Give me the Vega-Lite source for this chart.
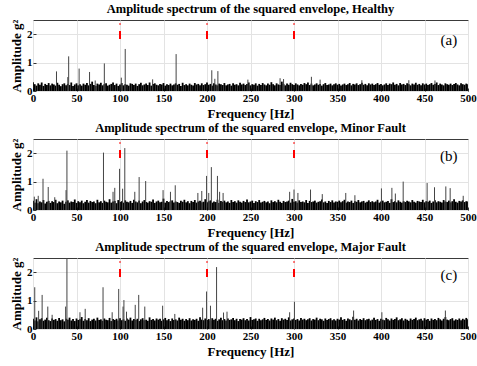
{
"$schema": "https://vega.github.io/schema/vega-lite/v6.json",
"padding": {"left": 9, "top": 2, "right": 5, "bottom": 0},
"spacing": 0,
"config": {
 "font": "Liberation Serif",
 "view": {"stroke": "#3a3a3a", "strokeWidth": 1},
 "axis": {"labelFont": "Liberation Serif", "labelFontWeight": "bold", "labelFontSize": 11, "labelColor": "black", "titleFont": "Liberation Serif", "titleFontWeight": "bold", "titleFontSize": 13, "titleColor": "black", "domain": false, "tickColor": "#333", "tickSize": -3, "gridColor": "#e3e3e3", "labelPadding": 4, "labelFlush": false, "labelOverlap": false},
 "axisY": {"tickCount": 3},
 "title": {"font": "Liberation Serif", "fontSize": 12.5, "fontWeight": "bold", "color": "black", "offset": 4, "anchor": "middle", "frame": "group"}
},
"datasets": {
 "floor": [
{"f":0,"a":0.31,"b":0.33,"c":0.36},{"f":2,"a":0.24,"b":0.26,"c":0.3},{"f":4,"a":0.19,"b":0.38,"c":0.41},{"f":6,"a":0.27,"b":0.24,"c":0.27},{"f":8,"a":0.22,"b":0.3,"c":0.34},{"f":10,"a":0.3,"b":0.27,"c":0.38},{"f":12,"a":0.18,"b":0.35,"c":0.29},{"f":14,"a":0.25,"b":0.23,"c":0.33},{"f":16,"a":0.21,"b":0.29,"c":0.4},{"f":18,"a":0.28,"b":0.32,"c":0.31},
{"f":20,"a":0.2,"b":0.25,"c":0.28},{"f":22,"a":0.26,"b":0.31,"c":0.37},{"f":24,"a":0.23,"b":0.28,"c":0.32},{"f":26,"a":0.19,"b":0.36,"c":0.35},{"f":28,"a":0.29,"b":0.24,"c":0.29},{"f":30,"a":0.22,"b":0.3,"c":0.39},{"f":32,"a":0.17,"b":0.27,"c":0.31},{"f":34,"a":0.24,"b":0.33,"c":0.34},{"f":36,"a":0.27,"b":0.22,"c":0.27},{"f":38,"a":0.2,"b":0.29,"c":0.36},
{"f":40,"a":0.25,"b":0.34,"c":0.33},{"f":42,"a":0.21,"b":0.26,"c":0.4},{"f":44,"a":0.3,"b":0.3,"c":0.3},{"f":46,"a":0.18,"b":0.28,"c":0.35},{"f":48,"a":0.23,"b":0.37,"c":0.28},{"f":50,"a":0.27,"b":0.25,"c":0.37},{"f":52,"a":0.2,"b":0.31,"c":0.32},{"f":54,"a":0.24,"b":0.27,"c":0.34},{"f":56,"a":0.19,"b":0.33,"c":0.42},{"f":58,"a":0.26,"b":0.24,"c":0.29},
{"f":60,"a":0.22,"b":0.29,"c":0.35},{"f":62,"a":0.28,"b":0.35,"c":0.31},{"f":64,"a":0.2,"b":0.26,"c":0.38},{"f":66,"a":0.25,"b":0.32,"c":0.28},{"f":68,"a":0.33,"b":0.28,"c":0.33},{"f":70,"a":0.21,"b":0.3,"c":0.36},{"f":72,"a":0.18,"b":0.24,"c":0.3},{"f":74,"a":0.26,"b":0.36,"c":0.4},{"f":76,"a":0.23,"b":0.27,"c":0.32},{"f":78,"a":0.29,"b":0.31,"c":0.34},
{"f":80,"a":0.2,"b":0.25,"c":0.29},{"f":82,"a":0.24,"b":0.33,"c":0.37},{"f":84,"a":0.27,"b":0.29,"c":0.33},{"f":86,"a":0.19,"b":0.27,"c":0.31},{"f":88,"a":0.22,"b":0.38,"c":0.39},{"f":90,"a":0.25,"b":0.26,"c":0.28},{"f":92,"a":0.3,"b":0.3,"c":0.35},{"f":94,"a":0.21,"b":0.32,"c":0.32},{"f":96,"a":0.26,"b":0.24,"c":0.36},{"f":98,"a":0.18,"b":0.35,"c":0.3},
{"f":100,"a":0.23,"b":0.28,"c":0.38},{"f":102,"a":0.28,"b":0.31,"c":0.31},{"f":104,"a":0.2,"b":0.26,"c":0.34},{"f":106,"a":0.24,"b":0.34,"c":0.29},{"f":108,"a":0.22,"b":0.29,"c":0.37},{"f":110,"a":0.19,"b":0.27,"c":0.33},{"f":112,"a":0.27,"b":0.32,"c":0.4},{"f":114,"a":0.25,"b":0.25,"c":0.3},{"f":116,"a":0.21,"b":0.36,"c":0.35},{"f":118,"a":0.26,"b":0.3,"c":0.32},
{"f":120,"a":0.18,"b":0.27,"c":0.36},{"f":122,"a":0.24,"b":0.33,"c":0.28},{"f":124,"a":0.29,"b":0.24,"c":0.34},{"f":126,"a":0.2,"b":0.3,"c":0.38},{"f":128,"a":0.23,"b":0.35,"c":0.31},{"f":130,"a":0.26,"b":0.28,"c":0.33},{"f":132,"a":0.21,"b":0.26,"c":0.29},{"f":134,"a":0.3,"b":0.31,"c":0.41},{"f":136,"a":0.19,"b":0.29,"c":0.32},{"f":138,"a":0.25,"b":0.37,"c":0.35},
{"f":140,"a":0.27,"b":0.25,"c":0.3},{"f":142,"a":0.22,"b":0.3,"c":0.37},{"f":144,"a":0.2,"b":0.33,"c":0.33},{"f":146,"a":0.25,"b":0.27,"c":0.36},{"f":148,"a":0.23,"b":0.29,"c":0.29},{"f":150,"a":0.28,"b":0.4,"c":0.34},{"f":152,"a":0.19,"b":0.26,"c":0.39},{"f":154,"a":0.24,"b":0.32,"c":0.31},{"f":156,"a":0.21,"b":0.28,"c":0.35},{"f":158,"a":0.26,"b":0.31,"c":0.28},
{"f":160,"a":0.2,"b":0.34,"c":0.37},{"f":162,"a":0.23,"b":0.26,"c":0.32},{"f":164,"a":0.27,"b":0.3,"c":0.34},{"f":166,"a":0.22,"b":0.28,"c":0.3},{"f":168,"a":0.25,"b":0.25,"c":0.4},{"f":170,"a":0.18,"b":0.33,"c":0.33},{"f":172,"a":0.29,"b":0.29,"c":0.36},{"f":174,"a":0.21,"b":0.36,"c":0.29},{"f":176,"a":0.24,"b":0.27,"c":0.35},{"f":178,"a":0.2,"b":0.31,"c":0.31},
{"f":180,"a":0.26,"b":0.24,"c":0.38},{"f":182,"a":0.22,"b":0.32,"c":0.3},{"f":184,"a":0.19,"b":0.28,"c":0.34},{"f":186,"a":0.28,"b":0.35,"c":0.32},{"f":188,"a":0.23,"b":0.26,"c":0.36},{"f":190,"a":0.25,"b":0.3,"c":0.29},{"f":192,"a":0.2,"b":0.33,"c":0.41},{"f":194,"a":0.27,"b":0.27,"c":0.33},{"f":196,"a":0.21,"b":0.29,"c":0.31},{"f":198,"a":0.24,"b":0.38,"c":0.37},
{"f":200,"a":0.3,"b":0.27,"c":0.32},{"f":202,"a":0.22,"b":0.31,"c":0.35},{"f":204,"a":0.25,"b":0.34,"c":0.3},{"f":206,"a":0.19,"b":0.26,"c":0.38},{"f":208,"a":0.27,"b":0.3,"c":0.33},{"f":210,"a":0.23,"b":0.28,"c":0.36},{"f":212,"a":0.2,"b":0.36,"c":0.29},{"f":214,"a":0.26,"b":0.25,"c":0.34},{"f":216,"a":0.24,"b":0.32,"c":0.4},{"f":218,"a":0.21,"b":0.29,"c":0.31},
{"f":220,"a":0.28,"b":0.33,"c":0.35},{"f":222,"a":0.2,"b":0.27,"c":0.3},{"f":224,"a":0.23,"b":0.3,"c":0.37},{"f":226,"a":0.25,"b":0.25,"c":0.32},{"f":228,"a":0.19,"b":0.35,"c":0.34},{"f":230,"a":0.27,"b":0.28,"c":0.39},{"f":232,"a":0.22,"b":0.31,"c":0.31},{"f":234,"a":0.24,"b":0.26,"c":0.36},{"f":236,"a":0.2,"b":0.34,"c":0.28},{"f":238,"a":0.29,"b":0.29,"c":0.35},
{"f":240,"a":0.23,"b":0.26,"c":0.33},{"f":242,"a":0.26,"b":0.32,"c":0.38},{"f":244,"a":0.21,"b":0.28,"c":0.31},{"f":246,"a":0.25,"b":0.37,"c":0.35},{"f":248,"a":0.3,"b":0.27,"c":0.3},{"f":250,"a":0.2,"b":0.3,"c":0.42},{"f":252,"a":0.24,"b":0.33,"c":0.32},{"f":254,"a":0.22,"b":0.25,"c":0.34},{"f":256,"a":0.27,"b":0.31,"c":0.37},{"f":258,"a":0.19,"b":0.28,"c":0.29},
{"f":260,"a":0.25,"b":0.35,"c":0.36},{"f":262,"a":0.21,"b":0.26,"c":0.31},{"f":264,"a":0.28,"b":0.29,"c":0.34},{"f":266,"a":0.23,"b":0.32,"c":0.39},{"f":268,"a":0.2,"b":0.27,"c":0.32},{"f":270,"a":0.26,"b":0.3,"c":0.35},{"f":272,"a":0.22,"b":0.24,"c":0.3},{"f":274,"a":0.31,"b":0.34,"c":0.37},{"f":276,"a":0.24,"b":0.28,"c":0.33},{"f":278,"a":0.2,"b":0.31,"c":0.4},
{"f":280,"a":0.27,"b":0.27,"c":0.31},{"f":282,"a":0.23,"b":0.36,"c":0.35},{"f":284,"a":0.21,"b":0.29,"c":0.29},{"f":286,"a":0.33,"b":0.25,"c":0.38},{"f":288,"a":0.25,"b":0.32,"c":0.33},{"f":290,"a":0.2,"b":0.28,"c":0.36},{"f":292,"a":0.26,"b":0.3,"c":0.32},{"f":294,"a":0.22,"b":0.33,"c":0.41},{"f":296,"a":0.29,"b":0.26,"c":0.3},{"f":298,"a":0.24,"b":0.39,"c":0.34},
{"f":300,"a":0.21,"b":0.29,"c":0.37},{"f":302,"a":0.27,"b":0.31,"c":0.32},{"f":304,"a":0.23,"b":0.26,"c":0.35},{"f":306,"a":0.2,"b":0.34,"c":0.3},{"f":308,"a":0.25,"b":0.28,"c":0.39},{"f":310,"a":0.22,"b":0.3,"c":0.33},{"f":312,"a":0.28,"b":0.27,"c":0.36},{"f":314,"a":0.24,"b":0.35,"c":0.31},{"f":316,"a":0.3,"b":0.25,"c":0.34},{"f":318,"a":0.21,"b":0.32,"c":0.38},
{"f":320,"a":0.26,"b":0.28,"c":0.3},{"f":322,"a":0.2,"b":0.3,"c":0.35},{"f":324,"a":0.23,"b":0.33,"c":0.33},{"f":326,"a":0.27,"b":0.26,"c":0.4},{"f":328,"a":0.22,"b":0.29,"c":0.31},{"f":330,"a":0.25,"b":0.31,"c":0.36},{"f":332,"a":0.19,"b":0.37,"c":0.34},{"f":334,"a":0.24,"b":0.27,"c":0.29},{"f":336,"a":0.28,"b":0.3,"c":0.37},{"f":338,"a":0.21,"b":0.25,"c":0.32},
{"f":340,"a":0.23,"b":0.32,"c":0.35},{"f":342,"a":0.26,"b":0.28,"c":0.38},{"f":344,"a":0.2,"b":0.34,"c":0.31},{"f":346,"a":0.24,"b":0.26,"c":0.34},{"f":348,"a":0.27,"b":0.3,"c":0.3},{"f":350,"a":0.22,"b":0.29,"c":0.36},{"f":352,"a":0.25,"b":0.33,"c":0.33},{"f":354,"a":0.19,"b":0.27,"c":0.41},{"f":356,"a":0.23,"b":0.31,"c":0.32},{"f":358,"a":0.26,"b":0.36,"c":0.35},
{"f":360,"a":0.21,"b":0.26,"c":0.29},{"f":362,"a":0.24,"b":0.3,"c":0.37},{"f":364,"a":0.28,"b":0.28,"c":0.34},{"f":366,"a":0.2,"b":0.33,"c":0.31},{"f":368,"a":0.25,"b":0.25,"c":0.43},{"f":370,"a":0.23,"b":0.31,"c":0.33},{"f":372,"a":0.27,"b":0.29,"c":0.36},{"f":374,"a":0.21,"b":0.35,"c":0.3},{"f":376,"a":0.24,"b":0.27,"c":0.35},{"f":378,"a":0.29,"b":0.3,"c":0.32},
{"f":380,"a":0.22,"b":0.32,"c":0.38},{"f":382,"a":0.25,"b":0.26,"c":0.31},{"f":384,"a":0.2,"b":0.29,"c":0.34},{"f":386,"a":0.27,"b":0.34,"c":0.36},{"f":388,"a":0.23,"b":0.28,"c":0.3},{"f":390,"a":0.26,"b":0.31,"c":0.33},{"f":392,"a":0.21,"b":0.27,"c":0.4},{"f":394,"a":0.24,"b":0.3,"c":0.32},{"f":396,"a":0.28,"b":0.36,"c":0.35},{"f":398,"a":0.22,"b":0.26,"c":0.29},
{"f":400,"a":0.25,"b":0.3,"c":0.36},{"f":402,"a":0.2,"b":0.33,"c":0.33},{"f":404,"a":0.23,"b":0.27,"c":0.31},{"f":406,"a":0.27,"b":0.29,"c":0.39},{"f":408,"a":0.21,"b":0.32,"c":0.34},{"f":410,"a":0.26,"b":0.25,"c":0.3},{"f":412,"a":0.24,"b":0.38,"c":0.37},{"f":414,"a":0.3,"b":0.28,"c":0.32},{"f":416,"a":0.22,"b":0.31,"c":0.35},{"f":418,"a":0.25,"b":0.27,"c":0.41},
{"f":420,"a":0.2,"b":0.34,"c":0.31},{"f":422,"a":0.28,"b":0.29,"c":0.34},{"f":424,"a":0.23,"b":0.26,"c":0.38},{"f":426,"a":0.25,"b":0.31,"c":0.3},{"f":428,"a":0.21,"b":0.28,"c":0.36},{"f":430,"a":0.27,"b":0.33,"c":0.33},{"f":432,"a":0.24,"b":0.3,"c":0.29},{"f":434,"a":0.2,"b":0.27,"c":0.37},{"f":436,"a":0.26,"b":0.35,"c":0.32},{"f":438,"a":0.23,"b":0.29,"c":0.35},
{"f":440,"a":0.29,"b":0.26,"c":0.4},{"f":442,"a":0.22,"b":0.32,"c":0.31},{"f":444,"a":0.25,"b":0.3,"c":0.34},{"f":446,"a":0.2,"b":0.28,"c":0.36},{"f":448,"a":0.27,"b":0.36,"c":0.3},{"f":450,"a":0.23,"b":0.27,"c":0.38},{"f":452,"a":0.26,"b":0.31,"c":0.33},{"f":454,"a":0.21,"b":0.29,"c":0.35},{"f":456,"a":0.24,"b":0.33,"c":0.29},{"f":458,"a":0.28,"b":0.25,"c":0.37},
{"f":460,"a":0.22,"b":0.3,"c":0.32},{"f":462,"a":0.25,"b":0.34,"c":0.35},{"f":464,"a":0.3,"b":0.27,"c":0.31},{"f":466,"a":0.21,"b":0.31,"c":0.39},{"f":468,"a":0.26,"b":0.29,"c":0.34},{"f":470,"a":0.23,"b":0.26,"c":0.3},{"f":472,"a":0.2,"b":0.35,"c":0.36},{"f":474,"a":0.27,"b":0.3,"c":0.42},{"f":476,"a":0.24,"b":0.28,"c":0.33},{"f":478,"a":0.22,"b":0.33,"c":0.31},
{"f":480,"a":0.26,"b":0.27,"c":0.35},{"f":482,"a":0.21,"b":0.31,"c":0.38},{"f":484,"a":0.25,"b":0.38,"c":0.3},{"f":486,"a":0.28,"b":0.29,"c":0.34},{"f":488,"a":0.23,"b":0.26,"c":0.32},{"f":490,"a":0.2,"b":0.32,"c":0.37},{"f":492,"a":0.27,"b":0.3,"c":0.31},{"f":494,"a":0.24,"b":0.34,"c":0.36},{"f":496,"a":0.22,"b":0.28,"c":0.33},{"f":498,"a":0.26,"b":0.31,"c":0.39},
{"f":500,"a":0.24,"b":0.3,"c":0.34}
 ],
 "peaks": [
{"f":27,"a":0.69},{"f":40,"a":0.49},{"f":41,"a":1.22},{"f":53,"a":0.79},{"f":65,"a":0.67},{"f":71.5,"a":0.37},{"f":82,"a":0.97},{"f":101.5,"a":0.47},{"f":106,"a":1.48},{"f":137.5,"a":0.41},{"f":164.5,"a":1.3},{"f":205.5,"a":0.73},{"f":209,"a":0.43},{"f":212.5,"a":0.7},{"f":247,"a":0.4},{"f":284,"a":0.45},{"f":288,"a":0.42},{"f":320,"a":0.5},{"f":330,"a":0.4},{"f":378,"a":0.38},{"f":432,"a":0.38},{"f":462,"a":0.37},
{"f":1.5,"b":0.47},{"f":6,"b":0.5},{"f":11.5,"b":1.1},{"f":17.5,"b":0.81},{"f":25,"b":0.45},{"f":38,"b":0.7},{"f":39,"b":2.09},{"f":81,"b":2.02},{"f":92,"b":0.64},{"f":94,"b":0.78},{"f":99.5,"b":1.45},{"f":103,"b":0.75},{"f":105.5,"b":2.18},{"f":117,"b":0.64},{"f":122,"b":1.16},{"f":129.5,"b":1.02},{"f":149.5,"b":0.7},{"f":158,"b":0.64},{"f":163.5,"b":0.87},{"f":189.5,"b":0.6},{"f":194,"b":0.67},{"f":199.5,"b":1.2},{"f":202,"b":0.6},{"f":205,"b":1.51},{"f":212,"b":1.2},{"f":214.5,"b":0.64},{"f":218.5,"b":0.6},{"f":295,"b":0.64},{"f":300,"b":0.72},{"f":304.5,"b":0.6},{"f":319,"b":0.72},{"f":332.5,"b":0.56},{"f":359.5,"b":0.6},{"f":370,"b":0.52},{"f":400.5,"b":0.76},{"f":412.5,"b":0.78},{"f":416.5,"b":0.58},{"f":425.5,"b":1.0},{"f":453,"b":0.95},{"f":461.5,"b":0.8},{"f":474.5,"b":0.83},{"f":479.5,"b":0.77},{"f":494.5,"b":0.5},
{"f":2,"c":1.47},{"f":6.5,"c":0.64},{"f":10.5,"c":1.2},{"f":17,"c":0.79},{"f":22,"c":0.5},{"f":37.5,"c":0.79},{"f":39,"c":2.9},{"f":54,"c":0.59},{"f":60,"c":0.71},{"f":80.5,"c":1.47},{"f":91,"c":0.59},{"f":98.5,"c":1.41},{"f":103.5,"c":0.79},{"f":104.5,"c":1.02},{"f":107.5,"c":0.61},{"f":117.5,"c":0.85},{"f":121.5,"c":1.2},{"f":128.5,"c":0.79},{"f":149,"c":0.82},{"f":163,"c":0.53},{"f":195,"c":0.75},{"f":199.5,"c":1.32},{"f":204,"c":0.82},{"f":211,"c":2.18},{"f":219,"c":0.58},{"f":223,"c":0.61},{"f":295,"c":0.59},{"f":300.5,"c":0.96},{"f":368.5,"c":0.65},{"f":401,"c":0.59},{"f":474,"c":0.65}
 ],
 "harmonics": [{"f":100},{"f":200},{"f":300}]
},
"vconcat": [
 {
  "title": "Amplitude spectrum of the squared envelope, Healthy",
  "width": 435, "height": 71,
  "layer": [
   {"data": {"name": "floor"}, "mark": {"type": "rule", "color": "black", "strokeWidth": 1.8, "clip": true},
    "encoding": {
     "x": {"field": "f", "type": "quantitative", "scale": {"domain": [0, 500], "nice": false}, "axis": {"title": "Frequency [Hz]", "values": [0,50,100,150,200,250,300,350,400,450,500], "titlePadding": 4}},
     "y": {"field": "a", "type": "quantitative", "scale": {"domain": [0, 2.5], "nice": false}, "axis": {"title": "Amplitude g²", "values": [0,1,2], "titlePadding": 3}},
     "y2": {"datum": 0}}},
   {"data": {"name": "peaks"}, "transform": [{"filter": "isValid(datum.a)"}], "mark": {"type": "rule", "color": "#444", "strokeWidth": 1, "clip": true},
    "encoding": {"x": {"field": "f", "type": "quantitative"}, "y": {"field": "a", "type": "quantitative"}, "y2": {"datum": 0}}},
   {"data": {"name": "harmonics"}, "mark": {"type": "rule", "color": "#ff0000", "strokeWidth": 2, "strokeDash": [8, 6.5]},
    "encoding": {"x": {"field": "f", "type": "quantitative"}, "y": {"datum": 1.83}, "y2": {"datum": 2.38}}},
   {"data": {"values": [{"label": "(a)"}]}, "mark": {"type": "text", "font": "Liberation Serif", "fontSize": 15, "color": "black"},
    "encoding": {"x": {"datum": 478}, "y": {"datum": 1.8}, "text": {"field": "label"}}}
  ]
 },
 {
  "title": "Amplitude spectrum of the squared envelope, Minor Fault",
  "width": 435, "height": 71,
  "layer": [
   {"data": {"name": "floor"}, "mark": {"type": "rule", "color": "black", "strokeWidth": 1.8, "clip": true},
    "encoding": {
     "x": {"field": "f", "type": "quantitative", "scale": {"domain": [0, 500], "nice": false}, "axis": {"title": "Frequency [Hz]", "values": [0,50,100,150,200,250,300,350,400,450,500], "titlePadding": 4}},
     "y": {"field": "b", "type": "quantitative", "scale": {"domain": [0, 2.5], "nice": false}, "axis": {"title": "Amplitude g²", "values": [0,1,2], "titlePadding": 3}},
     "y2": {"datum": 0}}},
   {"data": {"name": "peaks"}, "transform": [{"filter": "isValid(datum.b)"}], "mark": {"type": "rule", "color": "#444", "strokeWidth": 1, "clip": true},
    "encoding": {"x": {"field": "f", "type": "quantitative"}, "y": {"field": "b", "type": "quantitative"}, "y2": {"datum": 0}}},
   {"data": {"name": "harmonics"}, "mark": {"type": "rule", "color": "#ff0000", "strokeWidth": 2, "strokeDash": [8, 6.5]},
    "encoding": {"x": {"field": "f", "type": "quantitative"}, "y": {"datum": 1.83}, "y2": {"datum": 2.38}}},
   {"data": {"values": [{"label": "(b)"}]}, "mark": {"type": "text", "font": "Liberation Serif", "fontSize": 15, "color": "black"},
    "encoding": {"x": {"datum": 478}, "y": {"datum": 1.9}, "text": {"field": "label"}}}
  ]
 },
 {
  "title": "Amplitude spectrum of the squared envelope, Major Fault",
  "width": 435, "height": 71,
  "layer": [
   {"data": {"name": "floor"}, "mark": {"type": "rule", "color": "black", "strokeWidth": 1.8, "clip": true},
    "encoding": {
     "x": {"field": "f", "type": "quantitative", "scale": {"domain": [0, 500], "nice": false}, "axis": {"title": "Frequency [Hz]", "values": [0,50,100,150,200,250,300,350,400,450,500], "titlePadding": 4}},
     "y": {"field": "c", "type": "quantitative", "scale": {"domain": [0, 2.5], "nice": false}, "axis": {"title": "Amplitude g²", "values": [0,1,2], "titlePadding": 3}},
     "y2": {"datum": 0}}},
   {"data": {"name": "peaks"}, "transform": [{"filter": "isValid(datum.c)"}], "mark": {"type": "rule", "color": "#444", "strokeWidth": 1, "clip": true},
    "encoding": {"x": {"field": "f", "type": "quantitative"}, "y": {"field": "c", "type": "quantitative"}, "y2": {"datum": 0}}},
   {"data": {"name": "harmonics"}, "mark": {"type": "rule", "color": "#ff0000", "strokeWidth": 2, "strokeDash": [8, 6.5]},
    "encoding": {"x": {"field": "f", "type": "quantitative"}, "y": {"datum": 1.83}, "y2": {"datum": 2.38}}},
   {"data": {"values": [{"label": "(c)"}]}, "mark": {"type": "text", "font": "Liberation Serif", "fontSize": 15, "color": "black"},
    "encoding": {"x": {"datum": 478}, "y": {"datum": 1.9}, "text": {"field": "label"}}}
  ]
 }
]
}
